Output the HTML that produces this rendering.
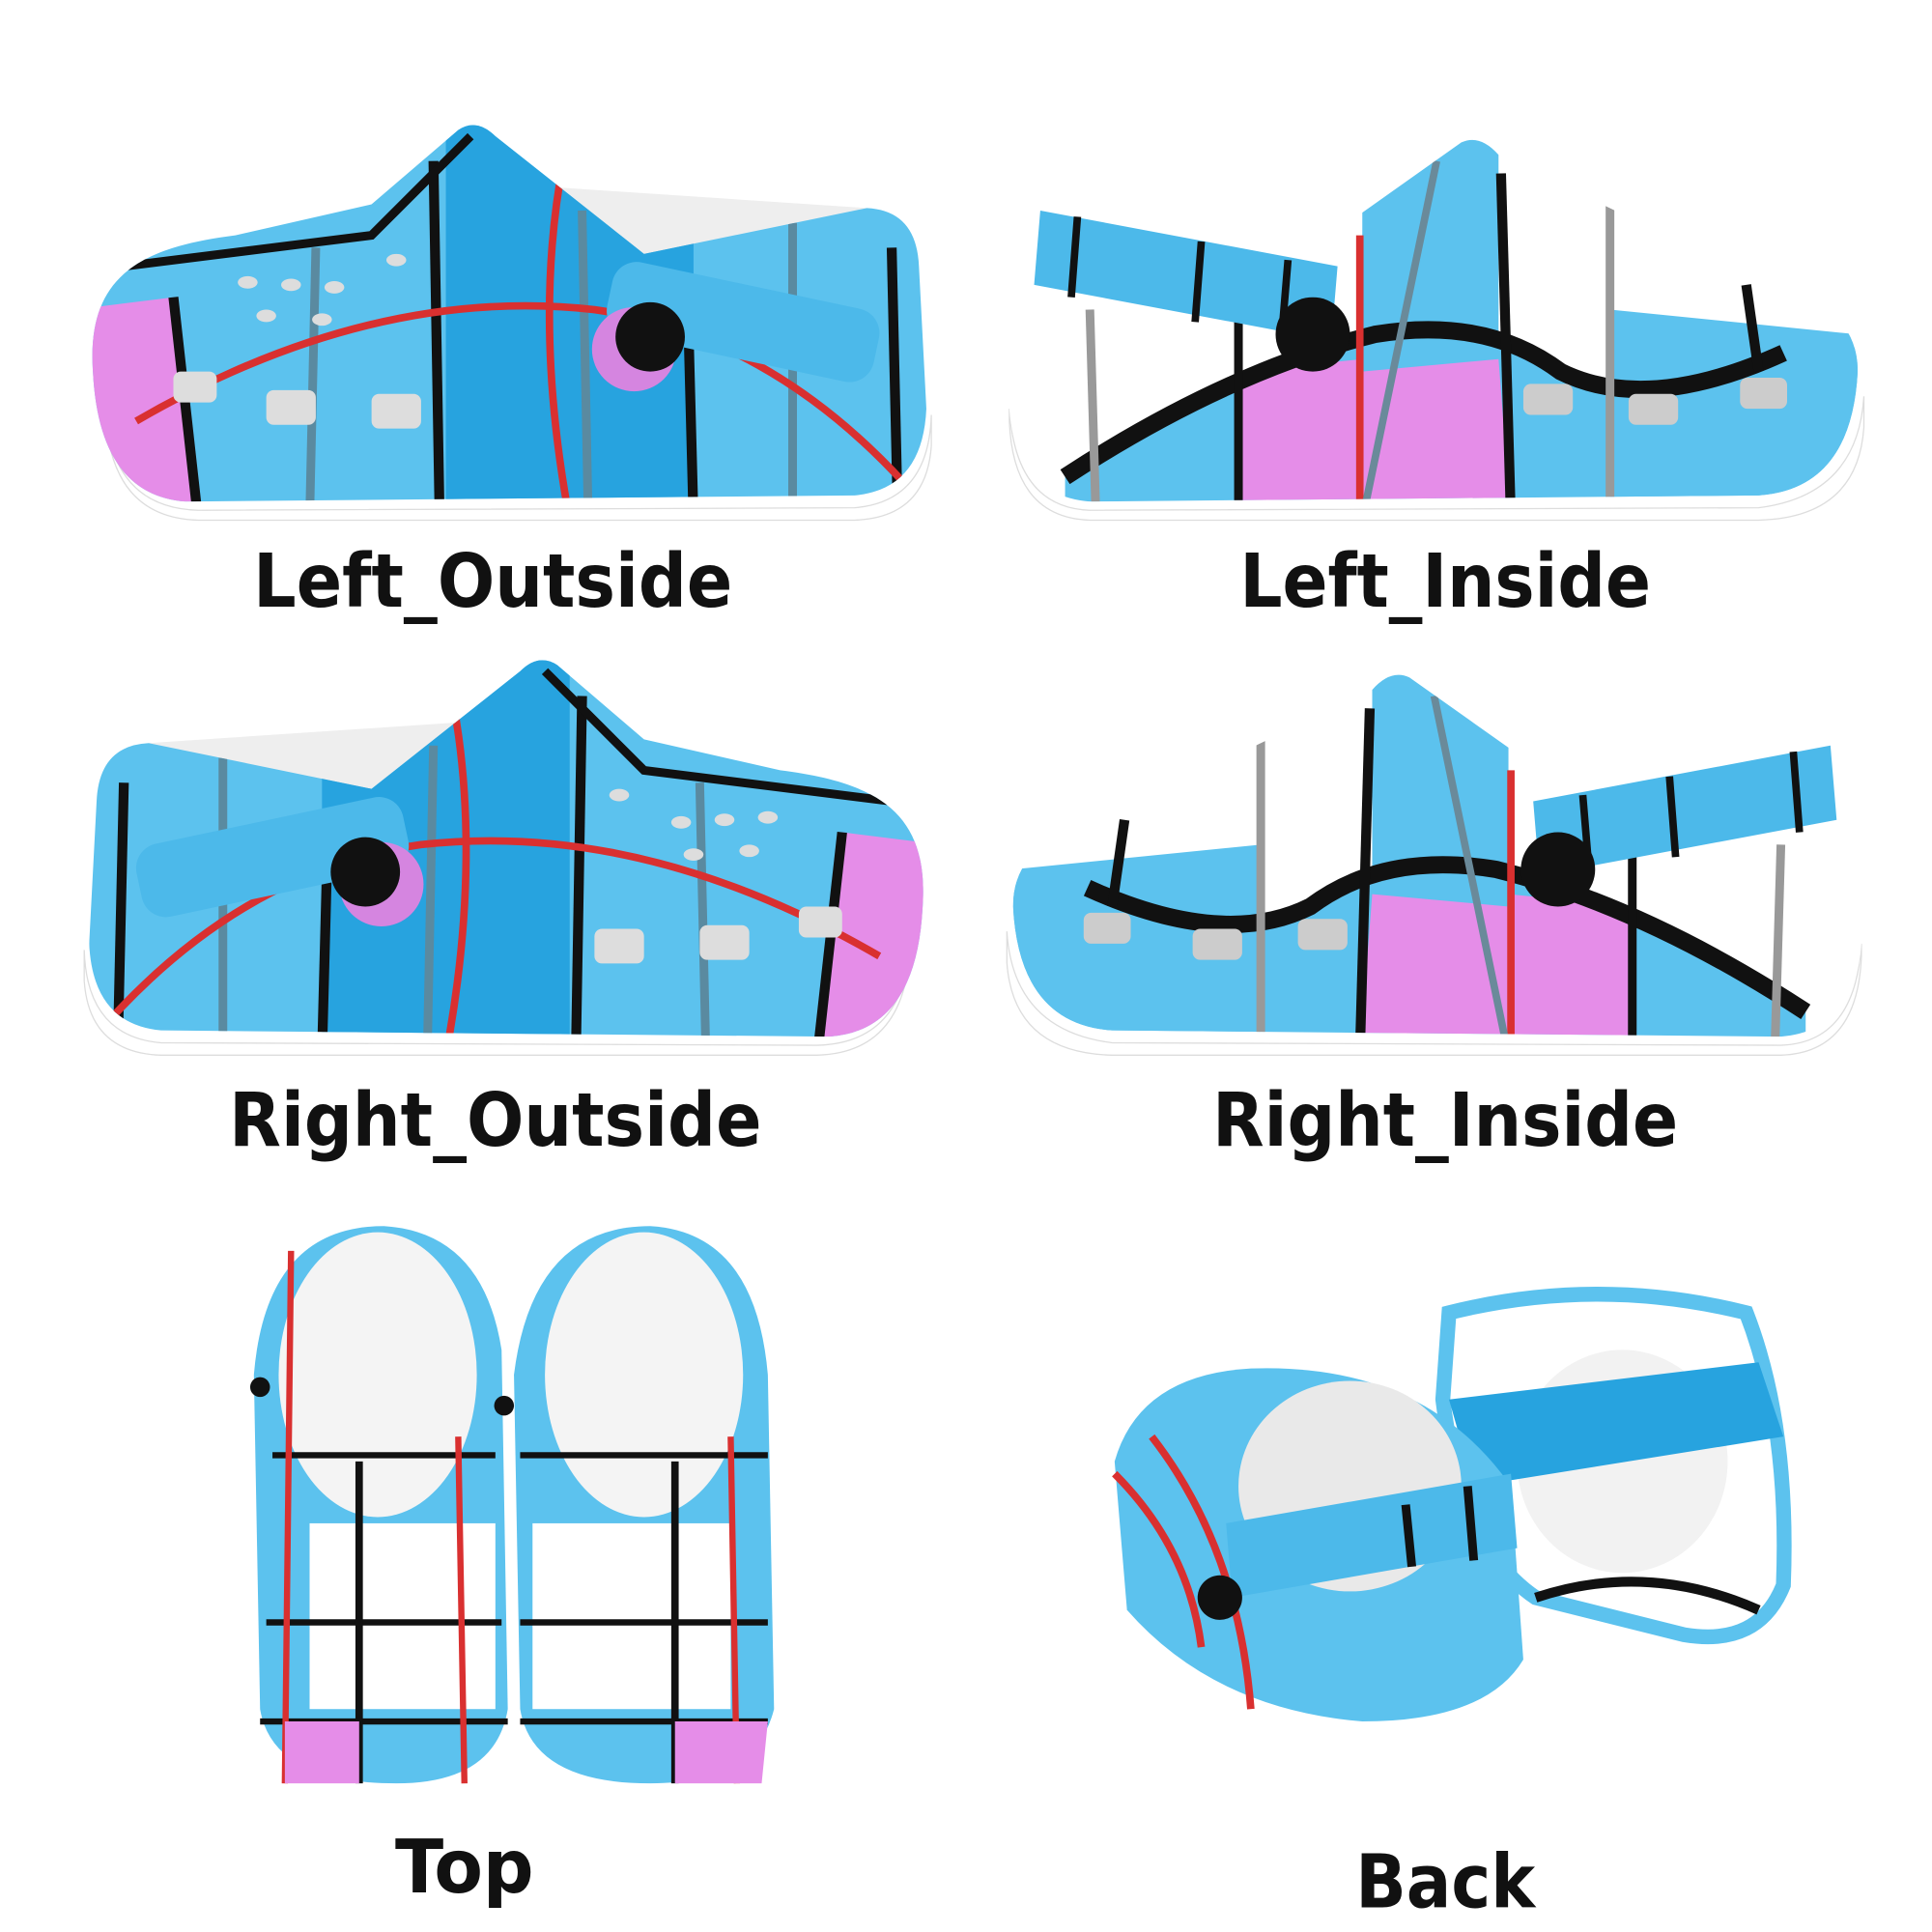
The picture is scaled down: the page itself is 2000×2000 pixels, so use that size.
<!DOCTYPE html>
<html><head><meta charset="utf-8"><style>
html,body{margin:0;padding:0;background:#fff;}
svg{display:block}
text{font-family:"DejaVu Sans","Liberation Sans",sans-serif;font-weight:bold;fill:#111;}
</style></head><body>
<svg width="2000" height="2000" viewBox="0 0 1560 1560" xmlns="http://www.w3.org/2000/svg">
<defs>
  <clipPath id="c1"><path id="p1" d="M75,300 C70,225 110,200 190,190 L300,165 L370,105 Q385,95 400,110 L520,205 L700,168 Q740,170 742,215 L748,330 Q745,395 690,400 L150,405 Q80,400 75,300 Z"/></clipPath>
  <g id="shoeOut">
    <path d="M85,330 Q90,410 160,412 L690,410 Q750,405 752,335 L752,360 Q748,418 690,420 L160,420 Q88,418 85,330Z" fill="#fff" stroke="#ddd"/>
    <path d="M430,150 L700,168 L700,230 L500,220Z" fill="#eee"/>
    <g clip-path="url(#c1)">
      <rect x="60" y="90" width="700" height="330" fill="#5cc2ee"/>
      <rect x="360" y="90" width="200" height="330" fill="#27a3df"/>
      <path d="M60,250 L140,240 L160,420 L60,420Z" fill="#e58de8"/>
      <path d="M140,240 L160,420" stroke="#111" stroke-width="8"/>
      <path d="M255,200 L250,420" stroke="#5a8aa0" stroke-width="7"/>
      <path d="M350,130 L355,420" stroke="#111" stroke-width="8"/>
      <path d="M470,170 L475,420" stroke="#5a8aa0" stroke-width="7"/>
      <path d="M555,230 L560,420" stroke="#111" stroke-width="8"/>
      <path d="M640,180 L640,420" stroke="#5a8aa0" stroke-width="7"/>
      <path d="M720,200 L725,420" stroke="#111" stroke-width="8"/>
      <path d="M60,220 L300,190 L380,110" stroke="#111" stroke-width="7" fill="none"/>
      <path d="M110,340 Q300,230 480,250 Q620,270 730,390" stroke="#d93030" stroke-width="6" fill="none"/>
      <path d="M455,130 Q430,260 460,420" stroke="#d93030" stroke-width="6" fill="none"/>
      <rect x="490" y="230" width="220" height="60" rx="20" fill="#4cb9ea" transform="rotate(12 600 260)"/>
      <rect x="140" y="300" width="35" height="25" rx="6" fill="#ddd"/>
      <rect x="215" y="315" width="40" height="28" rx="6" fill="#ddd"/>
      <rect x="300" y="318" width="40" height="28" rx="6" fill="#ddd"/>
      <g fill="#ddd"><ellipse cx="200" cy="228" rx="8" ry="5"/><ellipse cx="235" cy="230" rx="8" ry="5"/><ellipse cx="270" cy="232" rx="8" ry="5"/><ellipse cx="215" cy="255" rx="8" ry="5"/><ellipse cx="260" cy="258" rx="8" ry="5"/><ellipse cx="320" cy="210" rx="8" ry="5"/></g>
    </g>
    <circle cx="512" cy="282" r="34" fill="#d585e0"/>
    <circle cx="525" cy="272" r="28" fill="#111"/>
  </g>
  <clipPath id="c2"><path d="M820,260 Q815,180 860,170 L1060,200 L1180,115 Q1195,108 1210,125 L1440,235 Q1500,250 1500,300 Q1495,395 1420,400 L880,405 Q820,400 815,330Z"/></clipPath>
  <g id="shoeIn">
    <path d="M815,330 Q820,410 880,412 L1420,410 Q1500,400 1505,320 L1505,345 Q1500,418 1420,420 L880,420 Q818,418 815,340Z" fill="#fff" stroke="#ddd"/>
    <g clip-path="url(#c2)">
      <rect x="800" y="100" width="720" height="320" fill="#fff"/>
      <rect x="1100" y="100" width="110" height="200" fill="#5cc2ee"/>
      <path d="M1300,250 L1500,270 L1510,420 L1300,420Z" fill="#5cc2ee"/>
      <path d="M860,380 Q980,300 1100,270 Q1200,250 1260,300 Q1330,330 1420,280 L1520,280 L1520,420 L860,420Z" fill="#5cc2ee"/>
      <path d="M1000,300 L1100,290 L1100,420 L1000,420Z" fill="#e58de8"/>
      <path d="M1100,300 L1210,290 L1220,420 L1100,420Z" fill="#e58de8"/>
      <path d="M860,385 Q990,300 1110,270 Q1200,255 1260,300 Q1330,335 1440,285" stroke="#111" stroke-width="14" fill="none"/>
      <path d="M880,250 L885,420" stroke="#999" stroke-width="7"/>
      <path d="M1000,230 L1000,420" stroke="#111" stroke-width="7"/>
      <path d="M1098,190 L1098,420" stroke="#d93030" stroke-width="6"/>
      <path d="M1212,140 L1220,420" stroke="#111" stroke-width="8"/>
      <path d="M1300,160 L1300,420" stroke="#999" stroke-width="7"/>
      <path d="M1410,230 L1420,300" stroke="#111" stroke-width="8"/>
      <path d="M1160,130 L1100,420" stroke="#6a8a9a" stroke-width="6"/>
      <rect x="1230" y="310" width="40" height="25" rx="6" fill="#ccc"/>
      <rect x="1315" y="318" width="40" height="25" rx="6" fill="#ccc"/>
      <rect x="1405" y="305" width="38" height="25" rx="6" fill="#ccc"/>
    </g>
    <path d="M840,170 L1080,215 L1075,275 L835,230Z" fill="#4cb9ea"/>
    <path d="M870,175 L865,240 M970,195 L965,260 M1040,210 L1035,270" stroke="#111" stroke-width="6"/>
    <circle cx="1060" cy="270" r="30" fill="#111"/>
  </g>
</defs>

<use href="#shoeOut"/>
<use href="#shoeIn"/>
<use href="#shoeOut" transform="translate(820,432) scale(-1,1)"/>
<use href="#shoeIn" transform="translate(2318,432) scale(-1,1)"/>

<!-- Top view -->
<g>
  <path d="M310,990 Q390,995 405,1090 L410,1380 Q400,1440 320,1440 Q220,1440 210,1380 L205,1110 Q215,990 310,990Z" fill="#5cc2ee"/>
  <ellipse cx="305" cy="1110" rx="80" ry="115" fill="#f4f4f4"/>
  <rect x="250" y="1230" width="150" height="150" fill="#fff"/>
  <path d="M220,1175 L400,1175 M215,1310 L405,1310 M210,1390 L410,1390" stroke="#111" stroke-width="5"/>
  <path d="M235,1010 L230,1440 M370,1160 L375,1440" stroke="#d93030" stroke-width="5"/>
  <path d="M290,1180 L290,1440" stroke="#111" stroke-width="6"/>
  <path d="M230,1390 L290,1390 L290,1440 L230,1440Z" fill="#e58de8"/>
  <path d="M525,990 Q610,995 620,1110 L625,1380 Q610,1440 525,1440 Q430,1440 420,1380 L415,1110 Q430,990 525,990Z" fill="#5cc2ee"/>
  <ellipse cx="520" cy="1110" rx="80" ry="115" fill="#f4f4f4"/>
  <rect x="430" y="1230" width="160" height="150" fill="#fff"/>
  <path d="M420,1175 L620,1175 M420,1310 L620,1310 M420,1390 L620,1390" stroke="#111" stroke-width="5"/>
  <path d="M590,1160 L595,1440" stroke="#d93030" stroke-width="5"/>
  <path d="M545,1180 L545,1440" stroke="#111" stroke-width="6"/>
  <path d="M545,1390 L620,1390 L615,1440 L545,1440Z" fill="#e58de8"/>
  <circle cx="210" cy="1120" r="8" fill="#111"/><circle cx="407" cy="1135" r="8" fill="#111"/>
</g>

<!-- Back view -->
<g>
  <path d="M1170,1060 Q1290,1030 1410,1060 Q1445,1150 1440,1280 Q1420,1330 1360,1320 L1240,1290 Q1180,1250 1165,1130Z" fill="#fff" stroke="#5cc2ee" stroke-width="12"/>
  <ellipse cx="1310" cy="1180" rx="85" ry="90" fill="#f2f2f2"/>
  <path d="M1170,1130 L1420,1100 L1440,1160 L1190,1200Z" fill="#27a3df"/>
  <path d="M1240,1290 Q1330,1260 1420,1300" stroke="#111" stroke-width="8" fill="none"/>
  <path d="M900,1180 Q920,1110 1010,1105 Q1150,1100 1220,1200 L1230,1340 Q1200,1390 1100,1390 Q980,1380 910,1300Z" fill="#5cc2ee"/>
  <ellipse cx="1090" cy="1200" rx="90" ry="85" fill="#e9e9e9"/>
  <path d="M990,1230 L1220,1190 L1225,1250 L995,1290Z" fill="#4cb9ea"/>
  <path d="M1135,1215 L1140,1265 M1185,1200 L1190,1260" stroke="#111" stroke-width="7"/>
  <path d="M900,1190 Q960,1250 970,1330 M930,1160 Q1000,1250 1010,1380" stroke="#d93030" stroke-width="6" fill="none"/>
  <circle cx="985" cy="1290" r="18" fill="#111"/>
</g>

<text x="398" y="490" font-size="60" text-anchor="middle" textLength="387" lengthAdjust="spacingAndGlyphs">Left_Outside</text>
<text x="1167" y="490" font-size="60" text-anchor="middle" textLength="332" lengthAdjust="spacingAndGlyphs">Left_Inside</text>
<text x="400" y="925" font-size="60" text-anchor="middle" textLength="430" lengthAdjust="spacingAndGlyphs">Right_Outside</text>
<text x="1167" y="925" font-size="60" text-anchor="middle" textLength="376" lengthAdjust="spacingAndGlyphs">Right_Inside</text>
<text x="375" y="1528" font-size="60" text-anchor="middle" textLength="112" lengthAdjust="spacingAndGlyphs">Top</text>
<text x="1167" y="1540" font-size="60" text-anchor="middle" textLength="145" lengthAdjust="spacingAndGlyphs">Back</text>
</svg>
</body></html>
